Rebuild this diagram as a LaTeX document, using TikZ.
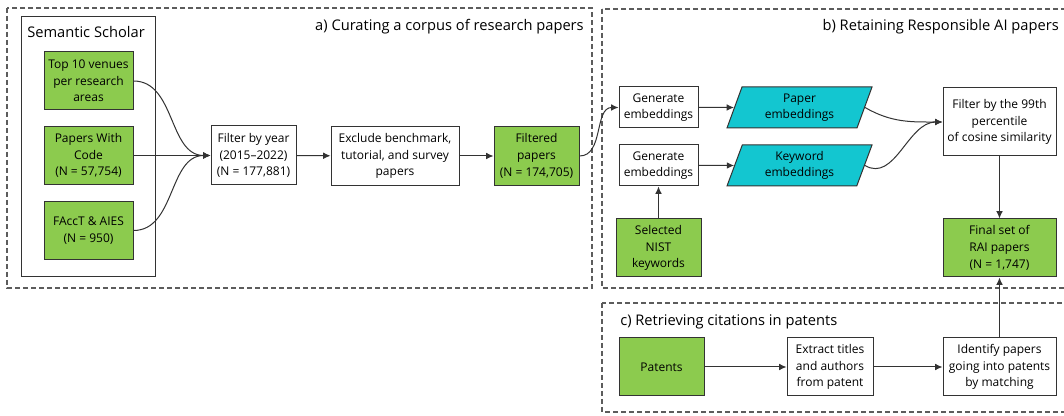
\documentclass[tikz,border=0pt]{standalone}
\usepackage{fontspec}
\setmainfont{Open Sans}
\usetikzlibrary{arrows.meta,shapes.geometric}

\definecolor{boxgreen}{HTML}{8CCB4E}
\definecolor{embcyan}{HTML}{13C6D0}
\definecolor{linegray}{HTML}{333333}

\tikzset{
  box/.style = {draw=linegray, line width=0.75pt, fill=white, align=center, inner sep=1pt,
                font=\fontsize{9}{12.5}\selectfont},
  greenbox/.style = {box, fill=boxgreen},
  embbox/.style = {box, fill=embcyan, trapezium, trapezium left angle=64,
                   trapezium right angle=116, trapezium stretches body=true},
  panel/.style = {draw=linegray!80, line width=0.8pt, dash pattern=on 3.5pt off 2.5pt},
  panellabel/.style = {font=\fontsize{11}{13}\selectfont, inner sep=0pt},
  flow/.style = {draw=linegray, line width=0.75pt, -{Latex[length=5.5pt,width=5pt]}}
}

\begin{document}
\begin{tikzpicture}[x=0.75pt, y=-0.75pt]
  \clip (0,0) rectangle (1064,416);
  \fill[white] (0,0) rectangle (1064,416);

  % panels
  \draw [panel] (7,8) rectangle (592,288);
  \draw [panel] (602,9) rectangle (1075,288);
  \draw [panel] (602,303) rectangle (1075,412);
  \draw [draw=linegray, line width=0.75pt] (21,17) rectangle (155,277);

  \node [panellabel, anchor=east] (titleA) at (584,27) {a) Curating a corpus of research papers};
  \node [panellabel, anchor=east] (titleB) at (1059,27) {b) Retaining Responsible AI papers};
  \node [panellabel, anchor=west] (titleC) at (620,322) {c) Retrieving citations in patents};
  \node [anchor=west, inner sep=0pt, font=\fontsize{11}{13}\selectfont] (scholar) at (27,32) {Semantic Scholar};

  % a) corpus
  \node [greenbox, minimum width=66.75pt, minimum height=43.5pt] (venues) at (88.5,81) {Top 10 venues\\per research\\areas};
  \node [greenbox, minimum width=66.75pt, minimum height=43.5pt] (pwc) at (88.5,155.5) {Papers With\\Code\\(N = 57,754)};
  \node [greenbox, minimum width=66.75pt, minimum height=43.5pt] (facct) at (88.5,230.5) {FAccT \& AIES\\(N = 950)};
  \node [box, minimum width=63.75pt, minimum height=44.25pt] (year) at (253.5,155.5) {Filter by year\\(2015–2022)\\(N = 177,881)};
  \node [box, minimum width=96pt, minimum height=44.25pt] (exclude) at (395,156) {Exclude benchmark,\\tutorial, and survey\\papers};
  \node [greenbox, minimum width=63.75pt, minimum height=44.25pt] (filtered) at (536.5,156) {Filtered\\papers\\(N = 174,705)};

  % b) responsible AI
  \node [box, minimum width=59.25pt, minimum height=30.75pt] (gen1) at (658.5,107.5) {Generate\\embeddings};
  \node [box, minimum width=59.25pt, minimum height=30.75pt] (gen2) at (658.5,165.5) {Generate\\embeddings};
  \node [embbox, minimum width=108.75pt, minimum height=30.75pt] (paperemb) at (799.5,107.5) {Paper\\embeddings};
  \node [embbox, minimum width=108.75pt, minimum height=30.75pt] (keyemb) at (799.5,165.5) {Keyword\\embeddings};
  \node [greenbox, minimum width=63.75pt, minimum height=43.5pt] (nist) at (658.5,248) {Selected\\NIST\\keywords};
  \node [box, minimum width=84.75pt, minimum height=51pt] (pct) at (999.5,122) {Filter by the 99th\\percentile\\of cosine similarity};
  \node [greenbox, minimum width=84.75pt, minimum height=43.5pt] (final) at (999.5,248) {Final set of\\RAI papers\\(N = 1,747)};

  % c) patents
  \node [greenbox, minimum width=63.75pt, minimum height=43.5pt] (patents) at (661.5,367) {Patents};
  \node [box, minimum width=64.5pt, minimum height=43.5pt] (extract) at (830,367) {Extract titles\\and authors\\from patent};
  \node [box, minimum width=84.75pt, minimum height=43.5pt] (identify) at (999.5,367) {Identify papers\\going into patents\\by matching};

  % connectors
  \draw [flow] (venues.east) to[out=0, in=180] (year.west);
  \draw [flow] (pwc.east) -- (year.west);
  \draw [flow] (facct.east) to[out=0, in=180] (year.west);
  \draw [flow] (year) -- (exclude);
  \draw [flow] (exclude) -- (filtered);
  \draw [flow] (filtered.east) to[out=0, in=180] (gen1.west);
  \draw [flow] (gen1) -- (paperemb);
  \draw [flow] (gen2) -- (keyemb);
  \draw [flow] (nist) -- (gen2);
  \draw [flow] (paperemb.east) to[out=-30, in=180] (pct.west);
  \draw [flow] (keyemb.east) to[out=-30, in=180] (pct.west);
  \draw [flow] (pct) -- (final);
  \draw [flow] (patents) -- (extract);
  \draw [flow] (extract) -- (identify);
  \draw [flow] (identify) -- (final);
\end{tikzpicture}
\end{document}
